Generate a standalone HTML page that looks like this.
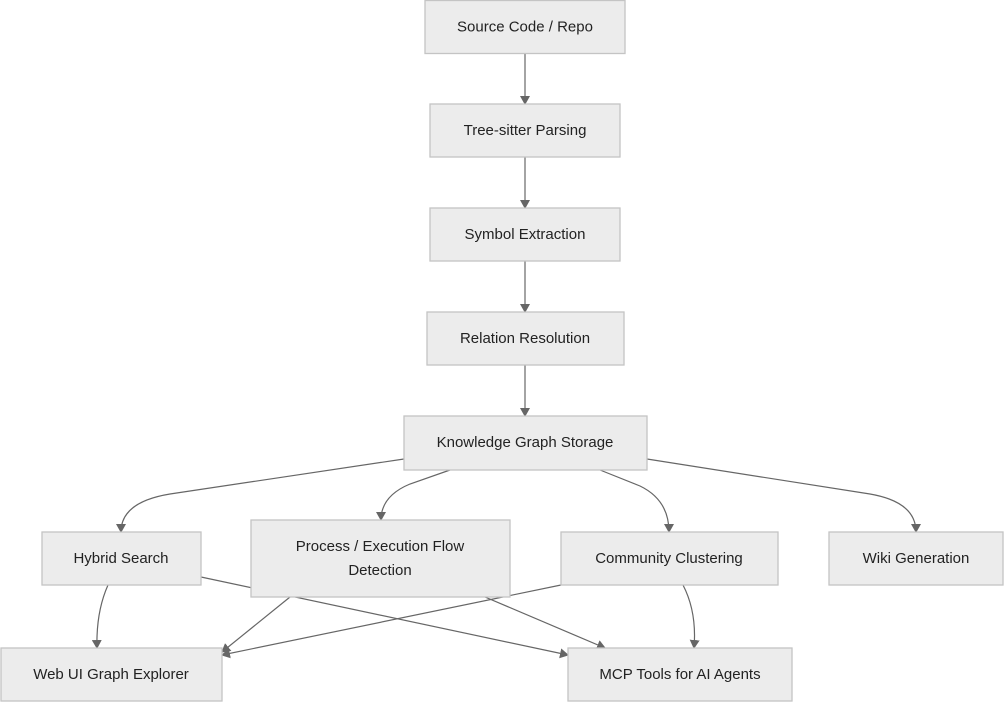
<!DOCTYPE html>
<html><head><meta charset="utf-8"><style>
html,body{margin:0;padding:0;background:#fff;}
svg{display:block;}
text{font-family:"Liberation Sans","DejaVu Sans",sans-serif;font-size:15px;fill:#222;text-anchor:middle;dominant-baseline:central;}
.n{fill:#ececec;stroke:#c4c4c4;stroke-width:1.3;}
.e{fill:none;stroke:#666;stroke-width:1.2;}
</style></head><body>
<svg width="1004" height="702" viewBox="0 0 1004 702">
<defs><marker id="a" markerWidth="10" markerHeight="10" refX="8" refY="5" orient="auto" markerUnits="userSpaceOnUse"><path d="M0,0 L9,5 L0,10 z" fill="#666"/></marker></defs>
<g class="e" marker-end="url(#a)">
<path d="M525,53 L525,104"/>
<path d="M525,157 L525,208"/>
<path d="M525,261 L525,312"/>
<path d="M525,365 L525,416"/>
<path d="M404,459 L170,494 Q121,502 121,532"/>
<path d="M450,470 L410,484 Q381,496 381,520"/>
<path d="M600,470 L640,486 Q669,500 669,532"/>
<path d="M647,459 L870,494 Q916,502 916,532"/>
<path d="M108,585 Q96,612 97,648"/>
<path d="M201,577 L568,655"/>
<path d="M290,597 L222,652"/>
<path d="M485,597 L605,648"/>
<path d="M561,585 L222,655"/>
<path d="M683,585 Q697,612 694,648"/>
</g>
<rect class="n" x="425" y="0.5" width="200" height="53"/><text x="525" y="27">Source Code / Repo</text>
<rect class="n" x="430" y="104" width="190" height="53"/><text x="525" y="130.5">Tree-sitter Parsing</text>
<rect class="n" x="430" y="208" width="190" height="53"/><text x="525" y="234.5">Symbol Extraction</text>
<rect class="n" x="427" y="312" width="197" height="53"/><text x="525" y="338.5">Relation Resolution</text>
<rect class="n" x="404" y="416" width="243" height="54"/><text x="525" y="442.5">Knowledge Graph Storage</text>
<rect class="n" x="42" y="532" width="159" height="53"/><text x="121" y="558.5">Hybrid Search</text>
<rect class="n" x="251" y="520" width="259" height="77"/><text x="380" y="546.5">Process / Execution Flow</text><text x="380" y="570.5">Detection</text>
<rect class="n" x="561" y="532" width="217" height="53"/><text x="669" y="558.5">Community Clustering</text>
<rect class="n" x="829" y="532" width="174" height="53"/><text x="916" y="558.5">Wiki Generation</text>
<rect class="n" x="1" y="648" width="221" height="53"/><text x="111" y="674.5">Web UI Graph Explorer</text>
<rect class="n" x="568" y="648" width="224" height="53"/><text x="680" y="674.5">MCP Tools for AI Agents</text>
</svg>
</body></html>
